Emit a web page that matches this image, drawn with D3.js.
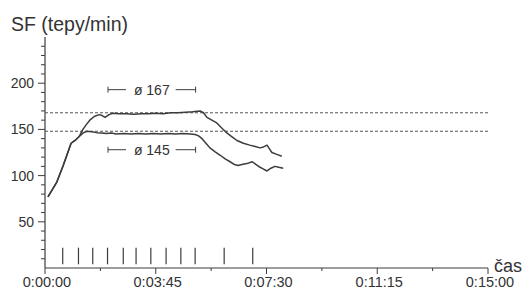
<!DOCTYPE html>
<html>
<head>
<meta charset="utf-8">
<script src="https://cdn.jsdelivr.net/npm/d3@7"></script>
<style>
  body { margin: 0; background: #fff; }
  text { font-family: "Liberation Sans", Arial, sans-serif; fill: #333; }
</style>
</head>
<body>
<div id="chart"></div>
<script>
// heart rate (tepy/min) against time in seconds
var upperTime = [6, 24, 37, 53, 61, 69, 77, 85, 91, 100, 110, 116, 122, 130, 138, 150, 165, 180, 195, 210, 225, 240, 255, 270, 285, 300, 315, 322, 329, 339, 349, 360, 370, 380, 390, 403, 416, 427, 437, 444, 451, 456, 461, 471, 481];
var upperHR   = [77, 93, 111, 135, 138, 142, 150, 156, 160, 164, 166, 165, 163, 166, 167.5, 167, 167, 166.5, 167, 167, 167.5, 167, 168, 168, 168.5, 169, 170, 168, 163, 160, 157, 151, 146, 142, 138, 135, 133, 131.5, 130, 131, 133, 129, 125, 123, 121];

var lowerTime = [6, 24, 37, 53, 61, 69, 77, 85, 95, 105, 115, 125, 135, 145, 160, 175, 190, 205, 220, 235, 250, 265, 280, 295, 305, 312, 319, 327, 335, 345, 356, 366, 376, 385, 392, 400, 410, 421, 429, 437, 444, 451, 459, 467, 475, 484];
var lowerHR   = [77, 93, 111, 135, 138, 142, 146, 148, 147.5, 146.5, 146, 145.5, 146, 145, 145.5, 145, 145.5, 145, 145.5, 145, 145.5, 145, 145.5, 145, 144.5, 143, 140, 135, 130, 126, 122, 118, 115, 112, 111, 112, 113, 115, 112, 109, 107, 105, 108, 110, 109, 108];

// average levels (dashed) and their labels
var avgLevels = [168, 148];
var avgLabels = ["ø 167", "ø 145"];
var avgLabelY = [193, 128];
var avgFrom = 128, avgTo = 306;

// lap markers (seconds)
var markers = [36, 68, 97, 127, 159, 185, 215, 246, 276, 305, 364, 422];

var xTicks = [0, 225, 450, 675, 900];
var xTickLabels = ["0:00:00", "0:03:45", "0:07:30", "0:11:15", "0:15:00"];
var yTicks = [50, 100, 150, 200];

var width = 525, height = 291;
var svg = d3.select('#chart').append('svg')
    .attr('width', width)
    .attr('height', height);

var x = d3.scaleLinear().domain([0, 900]).range([45, 488]);
var y = d3.scaleLinear().domain([0, 250]).range([268, 37]);
var ink = '#3c3c3c';

// y axis title
svg.append('text')
    .attr('x', 11).attr('y', 31)
    .style('font-size', '19.5px')
    .text('SF (tepy/min)');

// y axis
var yAxis = svg.append('g').attr('transform', 'translate(' + x(0) + ',0)');
yAxis.append('line')
    .attr('y1', y(250)).attr('y2', y(0))
    .attr('stroke', ink).attr('stroke-width', 1.2);
yAxis.selectAll('line.minor')
    .data(d3.range(10, 250, 10).filter(function (d) { return d % 50 !== 0; }))
    .enter().append('line')
    .attr('class', 'minor')
    .attr('x1', -4).attr('x2', 0)
    .attr('y1', function (d) { return y(d); })
    .attr('y2', function (d) { return y(d); })
    .attr('stroke', ink);
yAxis.selectAll('line.major')
    .data(yTicks)
    .enter().append('line')
    .attr('class', 'major')
    .attr('x1', -7).attr('x2', 0)
    .attr('y1', function (d) { return y(d); })
    .attr('y2', function (d) { return y(d); })
    .attr('stroke', ink);
yAxis.selectAll('text')
    .data(yTicks)
    .enter().append('text')
    .attr('x', -11)
    .attr('y', function (d) { return y(d); })
    .attr('dy', '0.35em')
    .attr('text-anchor', 'end')
    .style('font-size', '14px')
    .text(function (d) { return d; });

// x axis
var xAxis = svg.append('g').attr('transform', 'translate(0,' + y(0) + ')');
xAxis.append('line')
    .attr('x1', x(0)).attr('x2', x(900))
    .attr('stroke', ink).attr('stroke-width', 1.2);
xAxis.selectAll('line.minor')
    .data(d3.range(112.5, 900, 225))
    .enter().append('line')
    .attr('class', 'minor')
    .attr('x1', function (d) { return x(d); })
    .attr('x2', function (d) { return x(d); })
    .attr('y1', 0).attr('y2', 3)
    .attr('stroke', ink);
xAxis.selectAll('line.major')
    .data(xTicks)
    .enter().append('line')
    .attr('class', 'major')
    .attr('x1', function (d) { return x(d); })
    .attr('x2', function (d) { return x(d); })
    .attr('y1', 0).attr('y2', 6)
    .attr('stroke', ink);
xAxis.selectAll('text')
    .data(xTicks)
    .enter().append('text')
    .attr('x', function (d) { return x(d) + 2; })
    .attr('y', 19)
    .attr('text-anchor', 'middle')
    .style('font-size', '14.5px')
    .text(function (d, i) { return xTickLabels[i]; });
svg.append('text')
    .attr('x', 494).attr('y', 272)
    .style('font-size', '18px')
    .text('čas');

// dashed average lines
svg.selectAll('line.avg')
    .data(avgLevels)
    .enter().append('line')
    .attr('class', 'avg')
    .attr('x1', x(0)).attr('x2', 490)
    .attr('y1', function (d) { return y(d); })
    .attr('y2', function (d) { return y(d); })
    .attr('stroke', '#555')
    .attr('stroke-dasharray', '3,2');

// averaging range brackets
avgLabels.forEach(function (lbl, i) {
    var g = svg.append('g').attr('transform', 'translate(0,' + y(avgLabelY[i]) + ')');
    var x0 = x(avgFrom), x1 = x(avgTo);
    g.append('line').attr('x1', x0).attr('x2', x0 + 18).attr('stroke', ink);
    g.append('line').attr('x1', x1 - 20).attr('x2', x1).attr('stroke', ink);
    g.append('line').attr('x1', x0).attr('x2', x0).attr('y1', -3).attr('y2', 3).attr('stroke', ink);
    g.append('line').attr('x1', x1).attr('x2', x1).attr('y1', -3).attr('y2', 3).attr('stroke', ink);
    g.append('text')
        .attr('x', (x0 + x1) / 2)
        .attr('dy', '0.35em')
        .attr('text-anchor', 'middle')
        .style('font-size', '14px')
        .text(lbl);
});

// heart rate curves
var line = d3.line()
    .x(function (d) { return x(d[0]); })
    .y(function (d) { return y(d[1]); });
[[upperTime, upperHR], [lowerTime, lowerHR]].forEach(function (s) {
    svg.append('path')
        .datum(d3.zip(s[0], s[1]))
        .attr('d', line)
        .attr('fill', 'none')
        .attr('stroke', ink)
        .attr('stroke-width', 1.5)
        .attr('stroke-linejoin', 'round');
});

// lap markers
svg.selectAll('line.marker')
    .data(markers)
    .enter().append('line')
    .attr('class', 'marker')
    .attr('x1', function (d) { return x(d); })
    .attr('x2', function (d) { return x(d); })
    .attr('y1', y(22)).attr('y2', y(4))
    .attr('stroke', ink)
    .attr('stroke-width', 1.2);
</script>
</body>
</html>
